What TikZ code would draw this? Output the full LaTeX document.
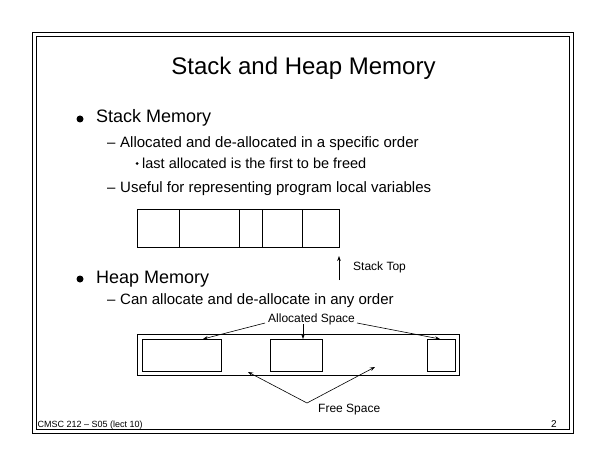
\documentclass[tikz,border=0pt]{standalone}
\usepackage{fontspec}
\setmainfont{Liberation Sans}
\usetikzlibrary{arrows.meta}
\begin{document}
\begin{tikzpicture}[x=1pt,y=-1pt,
  txt/.style={inner sep=0pt,anchor=base west},
  ln/.style={line width=0.8pt},
  cell/.style={draw,line width=0.8pt,inner sep=0pt,anchor=north west},
  arr/.style={line width=0.6pt,-{Stealth[length=5pt,width=3.6pt]}},
  dot/.style={fill=black,circle,inner sep=0pt}]
\useasboundingbox (0,0) rectangle (605,468);
\fill[white] (0,0) rectangle (605,468);
% frame
\draw[ln] (32,32) rectangle (573,433);
\draw[ln] (36,36) rectangle (569,429);
% title
\node[inner sep=0pt,anchor=base] (title) at (303.5,75) {\fontsize{24}{28}\selectfont Stack and Heap Memory};
% stack memory bullet
\node[dot,minimum size=7pt] (b1dot) at (80,119) {};
\node[txt] (stackmem) at (96,123) {\fontsize{18}{22}\selectfont Stack Memory};
\node[txt] (d1) at (107,148) {\fontsize{15}{18}\selectfont –};
\node[txt] (alloc1) at (120,148) {\fontsize{15}{18}\selectfont Allocated and de-allocated in a specific order};
\node[dot,minimum size=3pt] (sb) at (137,163.5) {};
\node[txt] (last) at (142,168) {\fontsize{14.5}{18}\selectfont last allocated is the first to be freed};
\node[txt] (d2) at (107,192) {\fontsize{15}{18}\selectfont –};
\node[txt] (useful) at (120,192) {\fontsize{15}{18}\selectfont Useful for representing program local variables};
% stack cells
\node[cell,minimum width=42pt,minimum height=38pt] (c1) at (137,209) {};
\node[cell,minimum width=60pt,minimum height=38pt] (c2) at (179,209) {};
\node[cell,minimum width=23pt,minimum height=38pt] (c3) at (239,209) {};
\node[cell,minimum width=40pt,minimum height=38pt] (c4) at (262,209) {};
\node[cell,minimum width=37pt,minimum height=38pt] (c5) at (302,209) {};
\coordinate (stbase) at (339,280);
\coordinate (sttip) at (339,256);
\draw[arr] (stbase) -- (sttip);
\node[txt] (sttop) at (353,270) {\fontsize{12}{14}\selectfont Stack Top};
% heap memory bullet
\node[dot,minimum size=7pt] (b2dot) at (80,279) {};
\node[txt] (heapmem) at (96,283) {\fontsize{18}{22}\selectfont Heap Memory};
\node[txt] (d3) at (107,304) {\fontsize{15}{18}\selectfont –};
\node[txt] (can) at (120,304) {\fontsize{15}{18}\selectfont Can allocate and de-allocate in any order};
% heap
\node[cell,minimum width=322pt,minimum height=41pt] (heap) at (137,334) {};
\node[cell,minimum width=79pt,minimum height=32pt] (h1) at (142,339) {};
\node[cell,minimum width=52pt,minimum height=32pt] (h2) at (270,339) {};
\node[cell,minimum width=28pt,minimum height=32pt] (h3) at (427,339) {};
\node[txt] (allocsp) at (268,322) {\fontsize{12}{14}\selectfont Allocated Space};
\coordinate (a1s) at (265,323);
\coordinate (a1e) at (203,339);
\coordinate (a2s) at (303,324);
\coordinate (a2e) at (303,339);
\coordinate (a3s) at (357,323);
\coordinate (a3e) at (440,339);
\draw[arr] (a1s) -- (a1e);
\draw[arr] (a2s) -- (a2e);
\draw[arr] (a3s) -- (a3e);
\node[txt] (freesp) at (318,412) {\fontsize{12}{14}\selectfont Free Space};
\coordinate (fv) at (307,403);
\coordinate (f1e) at (248,372);
\coordinate (f2e) at (375,367);
\draw[arr] (fv) -- (f1e);
\draw[arr] (fv) -- (f2e);
% footer
\node[txt] (footer) at (37.5,427) {\fontsize{9}{10}\selectfont CMSC 212 – S05 (lect 10)};
\node[txt] (pnum) at (551,427) {\fontsize{10}{12}\selectfont 2};
\end{tikzpicture}
\end{document}
